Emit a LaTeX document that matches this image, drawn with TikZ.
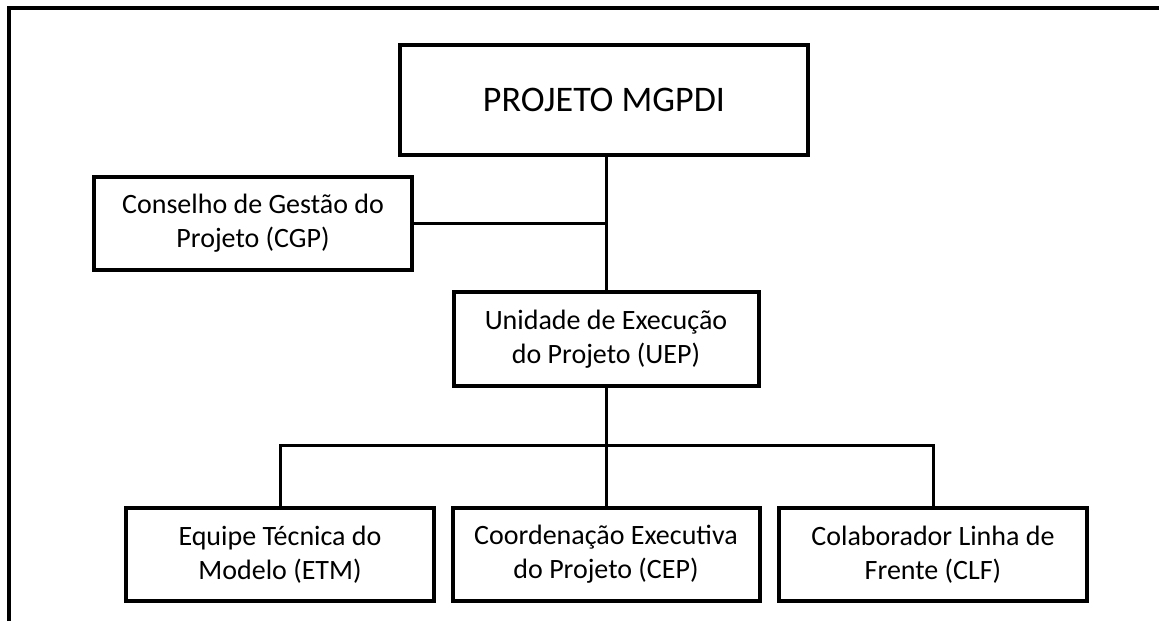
\documentclass[tikz,border=0pt]{standalone}
\usepackage{fontspec}
\setmainfont{Carlito}
\usetikzlibrary{calc}
\tikzstyle{orgbox} = [rectangle,
line width=4pt,
draw=black,
fill=white,
align=center,
font=\fontsize{28}{34}\selectfont]
\tikzstyle{link} = [line width=3pt]

\begin{document}
\begin{tikzpicture}[x=1pt, y=-1pt]
    \useasboundingbox (0,0) rectangle (1159,621);
    % outer frame
    \draw [line width=4pt] (9,621) -- (9,8) -- (1159,8);

    \node (proj) [orgbox, minimum width=408pt, minimum height=110pt,
      font=\fontsize{36}{42}\selectfont] at (604,100) {PROJETO MGPDI};
    \node (cgp) [orgbox, minimum width=318pt, minimum height=93pt] at (253,223.5)
      {Conselho de Gestão do\\Projeto (CGP)};
    \node (uep) [orgbox, minimum width=305pt, minimum height=94pt] at (606,339)
      {Unidade de Execução\\do Projeto (UEP)};

    \node (etm) [orgbox, minimum width=308pt, minimum height=93pt] at (280,554.5)
      {Equipe Técnica do\\Modelo (ETM)};
    \node (cep) [orgbox, minimum width=307pt, minimum height=93pt] at (606,554.5)
      {Coordenação Executiva\\do Projeto (CEP)};
    \node (clf) [orgbox, minimum width=308pt, minimum height=93pt] at (933,554.5)
      {Colaborador Linha de\\Frente (CLF)};

    % trunk
    \draw [link] (uep.north |- proj.south) -- (uep.north);
    \draw [link] (cgp.east) -- (cgp.east -| uep.north);

    % bus
    \coordinate (bus) at (606,445);
    \draw [link] (uep.south) -- (cep.north);
    \draw [link] (etm.north) -- (etm.north |- bus) -- (clf.north |- bus) -- (clf.north);
\end{tikzpicture}
\end{document}
